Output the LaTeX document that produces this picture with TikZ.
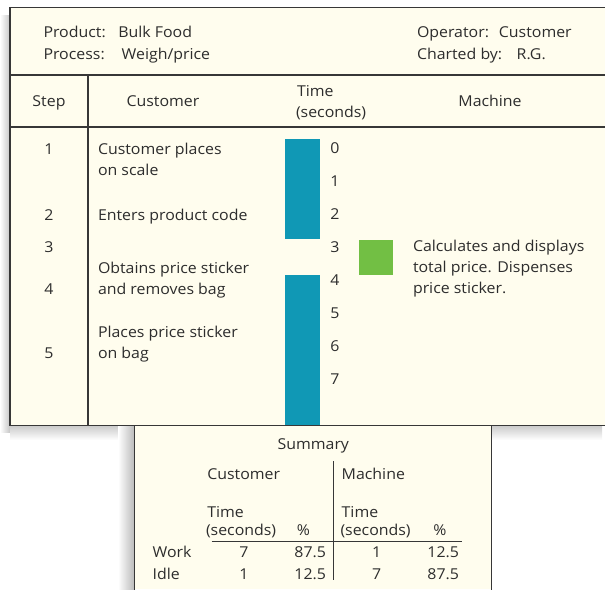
\documentclass[tikz,border=0pt]{standalone}
\usepackage{fontspec}
\setmainfont[FakeStretch=1.06]{Open Sans}
\definecolor{cream}{RGB}{255,253,238}
\definecolor{ink}{RGB}{45,45,45}
\definecolor{rule}{RGB}{55,55,55}
\definecolor{barblue}{RGB}{16,152,181}
\definecolor{bargreen}{RGB}{114,191,68}
\begin{document}
\begin{tikzpicture}[x=1pt,y=-1pt,
  txt/.style={inner sep=0pt, outer sep=0pt, font=\fontsize{15}{17}\selectfont, text=ink},
  lt/.style={txt, anchor=base west},
  ct/.style={txt, anchor=base},
  rt/.style={txt, anchor=base east},
  frame/.style={draw=rule, line width=1.4pt},
  thin/.style={draw=rule, line width=1pt}]
\useasboundingbox (0,0) rectangle (605,589);
\clip (0,0) rectangle (605,589);
% shadows
\shade[left color=white, right color=gray!45] (0,15) rectangle (10,432);
\shade[top color=gray!40, bottom color=white] (10,426) rectangle (602,440);
\shade[left color=white, right color=gray!55] (118,426) rectangle (134.7,589);
% summary box
\fill[cream] (134.7,425) rectangle (491.7,589);
\draw[frame] (134.7,425) -- (134.7,590);
\draw[frame] (491.7,425) -- (491.7,590);
% main box
\fill[cream] (10,7.5) rectangle (610,425.5);
\fill[barblue] (285,139) rectangle (320,239.3);
\fill[barblue] (285,275) rectangle (320,425.5);
\fill[bargreen] (359,240) rectangle (393.3,275);
\draw[frame] (10,7.5) rectangle (610,425.5);
\draw[frame] (10,75) -- (610,75);
\draw[frame] (10,127) -- (610,127);
\draw[frame] (88,75) -- (88,425.5);
% header info
\node[lt] (prodL) at (43.5,37) {Product:};
\node[lt] (prodV) at (118.3,37) {Bulk Food};
\node[lt] (procL) at (43.5,59.5) {Process:};
\node[lt] (procV) at (121.7,59.5) {Weigh/price};
\node[lt] (opL) at (417,37) {Operator:};
\node[rt] (opV) at (571.7,37) {Customer};
\node[lt] (chL) at (417,59.5) {Charted by:};
\node[lt] (chV) at (516.7,59.5) {R.G.};
% column headers
\node[ct] (hStep) at (49,106) {Step};
\node[ct] (hCust) at (163,106) {Customer};
\node[lt] (hTime) at (297,96) {Time};
\node[lt] (hSec) at (296,117.5) {(seconds)};
\node[ct] (hMach) at (490,106) {Machine};
% steps
\node[ct] (s1) at (49,154) {1};
\node[ct] (s2) at (49,220) {2};
\node[ct] (s3) at (49,252.7) {3};
\node[ct] (s4) at (49,294.7) {4};
\node[ct] (s5) at (49,358) {5};
% customer activities
\node[lt] (c1a) at (98,154.7) {Customer places};
\node[lt] (c1b) at (98,175.5) {on scale};
\node[lt] (c2) at (98,220) {Enters product code};
\node[lt] (c4a) at (98,273.3) {Obtains price sticker};
\node[lt] (c4b) at (98,294.3) {and removes bag};
\node[lt] (c5a) at (98,337) {Places price sticker};
\node[lt] (c5b) at (98,358) {on bag};
% time scale
\foreach \t/\yy in {0/153.3,1/186.3,2/219.3,3/252.3,4/285.3,5/318.3,6/351.3,7/384.3}
  \node[ct] (t\t) at (335,\yy) {\t};
% machine activity
\node[lt] (m1) at (413,251.7) {Calculates and displays};
\node[lt] (m2) at (413,272.5) {total price. Dispenses};
\node[lt] (m3) at (413,293) {price sticker.};
% summary
\node[ct] (sum) at (313.3,449.3) {Summary};
\node[lt] (sCust) at (207.3,479.3) {Customer};
\node[lt] (sMach) at (341.7,479.3) {Machine};
\coordinate (vtop) at (333.3,461);
\coordinate (vbot) at (333.3,580);
\draw[thin] (vtop) -- (vbot);
\node[lt] (sT1) at (207.3,517.3) {Time};
\node[lt] (sS1) at (206,535.5) {(seconds)};
\node[ct] (sP1) at (303.3,535.5) {\%};
\node[lt] (sT2) at (341.7,517.3) {Time};
\node[lt] (sS2) at (340.5,535.5) {(seconds)};
\node[ct] (sP2) at (440,535.5) {\%};
\coordinate (hl) at (211.7,541.7);
\coordinate (hr) at (461.7,541.7);
\draw[thin] (hl) -- (hr);
\node[lt] (work) at (152.7,557.7) {Work};
\node[lt] (idle) at (152.7,579) {Idle};
\node[ct] (w1) at (244,557.7) {7};
\node[rt] (w2) at (326,557.7) {87.5};
\node[ct] (w3) at (376.7,557.7) {1};
\node[rt] (w4) at (459,557.7) {12.5};
\node[ct] (i1) at (244,579) {1};
\node[rt] (i2) at (326,579) {12.5};
\node[ct] (i3) at (376.7,579) {7};
\node[rt] (i4) at (459,579) {87.5};
\end{tikzpicture}
\end{document}
